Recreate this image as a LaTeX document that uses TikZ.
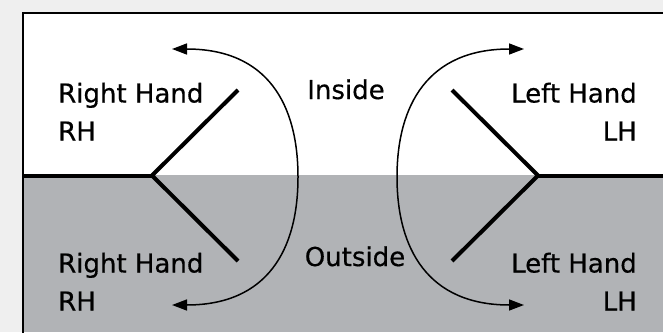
\documentclass[tikz,border=0pt]{standalone}
\usepackage{fontspec}
\setmainfont{DejaVu Sans}[BoldFont={DejaVu Sans}, BoldFeatures={FakeBold=0.5}]
\usetikzlibrary{arrows.meta,positioning}
\definecolor{pagebg}{HTML}{EFEFEF}
\definecolor{outsidegray}{HTML}{B1B3B6}
\tikzset{
    handlabel/.style={font=\fontsize{26}{38}\selectfont\bfseries, inner sep=0pt},
    hingeline/.style={line width=4pt, miter limit=10},
    swing/.style={{Triangle[length=15pt,width=11pt]}-{Triangle[length=15pt,width=11pt]}, line width=1.5pt}
}

\begin{document}
\begin{tikzpicture}[x=1pt, y=-1pt]
\useasboundingbox (0,0) rectangle (663,332);
% panel and halves
\fill[pagebg] (0,0) rectangle (663,332);
\fill[white] (23,13) rectangle (663,175);
\fill[outsidegray] (23,175) rectangle (663,332);
\draw[line width=2.5pt] (23,340) -- (23,13) -- (670,13);
% hinges
\coordinate (rhedge) at (23,175.5);
\coordinate (rhhinge) at (152,175.5);
\coordinate (rhin) at (238,90);
\coordinate (rhout) at (238,261);
\coordinate (lhedge) at (670,175.5);
\coordinate (lhhinge) at (538,175.5);
\coordinate (lhin) at (452,90);
\coordinate (lhout) at (452,261);
\draw[hingeline] (rhedge) -- (rhhinge);
\draw[hingeline] (rhin) -- (rhhinge) -- (rhout);
\draw[hingeline] (lhedge) -- (lhhinge);
\draw[hingeline] (lhin) -- (lhhinge) -- (lhout);
% swing arrows
\coordinate (rhtipin) at (172,49);
\coordinate (rhtipout) at (172,305);
\coordinate (lhtipin) at (524,49);
\coordinate (lhtipout) at (524,305);
\draw[swing] (rhtipin) .. controls (268,49) and (298,105) .. (298,177)
    .. controls (298,249) and (268,305) .. (rhtipout);
\draw[swing] (lhtipin) .. controls (428,49) and (397,105) .. (397,177)
    .. controls (397,249) and (428,305) .. (lhtipout);
% labels (anchored on the second line)
\node[handlabel, anchor=base west, align=left] (rhinlabel) at (58,140.5) {Right Hand\\RH};
\node[handlabel, anchor=base west, align=left] (rhoutlabel) at (58,310.5) {Right Hand\\RH};
\node[handlabel, anchor=base east, align=right] (lhinlabel) at (637,140.5) {Left Hand\\LH};
\node[handlabel, anchor=base east, align=right] (lhoutlabel) at (637,310.5) {Left Hand\\LH};
\node[handlabel, anchor=base] (insidelabel) at (346,99) {Inside};
\node[handlabel, anchor=base] (outsidelabel) at (355,266) {Outside};
\end{tikzpicture}
\end{document}
